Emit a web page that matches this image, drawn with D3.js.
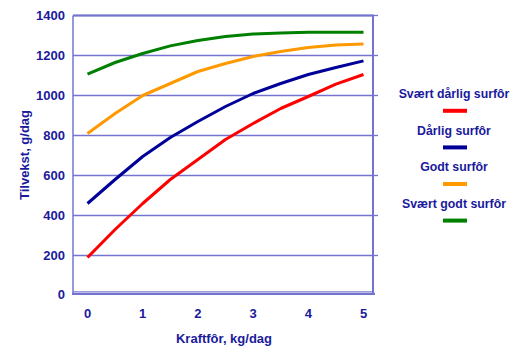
<!DOCTYPE html>
<html>
<head>
<meta charset="utf-8">
<script src="https://d3js.org/d3.v7.min.js"></script>
<style>
  body { margin: 0; background: #fff; }
  text { font-family: "Liberation Sans", Arial, sans-serif; font-weight: bold; fill: #1a1a9c; }
  .grid line { stroke: #7474d0; stroke-width: 1.3px; }
  .series { fill: none; stroke-width: 3px; stroke-linejoin: round; }
</style>
</head>
<body>
<script>
// kraftfôr (kg/dag) along the x axis
const kraftfor = [0, 0.5, 1, 1.5, 2, 2.5, 3, 3.5, 4, 4.5, 5];

// tilvekst (g/dag) per surfôr quality
const svaertDarlig = [190, 330, 460, 580, 680, 780, 860, 935, 995, 1057, 1105];
const darlig       = [460, 580, 695, 790, 870, 945, 1010, 1060, 1105, 1140, 1173];
const godt         = [810, 910, 1000, 1060, 1120, 1160, 1195, 1220, 1240, 1253, 1257];
const svaertGodt   = [1107, 1165, 1210, 1248, 1275, 1295, 1307, 1313, 1316, 1316, 1316];

const seriesNames = ["Svært dårlig surfôr", "Dårlig surfôr", "Godt surfôr", "Svært godt surfôr"];
const seriesColors = ["#ff0000", "#000099", "#ff9900", "#008000"];
const seriesValues = [svaertDarlig, darlig, godt, svaertGodt];

const xTicks = [0, 1, 2, 3, 4, 5];
const yTicks = [0, 200, 400, 600, 800, 1000, 1200, 1400];

const width = 520, height = 349;
const svg = d3.select("body").append("svg")
  .attr("width", width)
  .attr("height", height);

const plotLeft = 73, plotRight = 373, plotTop = 15.5, plotBottom = 295.5;

const x = d3.scaleLinear().domain([0, 5]).range([87.5, 363.5]);
const y = d3.scaleLinear().domain([0, 1400]).range([plotBottom, plotTop]);

// horizontal gridlines
svg.append("g").attr("class", "grid")
  .selectAll("line")
  .data(yTicks.filter(d => d > 0))
  .join("line")
  .attr("x1", plotLeft).attr("x2", plotRight)
  .attr("y1", d => y(d)).attr("y2", d => y(d));

// frame: top, left, right
svg.append("line").attr("x1", plotLeft).attr("x2", plotRight + 1)
  .attr("y1", y(1400)).attr("y2", y(1400))
  .attr("stroke", "#7474d0").attr("stroke-width", 2.2);
svg.append("line").attr("x1", plotLeft).attr("x2", plotLeft)
  .attr("y1", y(1400)).attr("y2", 293)
  .attr("stroke", "#7474d0").attr("stroke-width", 1.5);
svg.append("line").attr("x1", plotRight).attr("x2", plotRight)
  .attr("y1", y(1400)).attr("y2", 293)
  .attr("stroke", "#7474d0").attr("stroke-width", 2);

// small ticks on the right side
svg.append("g")
  .selectAll("line")
  .data(yTicks.filter(d => d > 0))
  .join("line")
  .attr("x1", plotRight).attr("x2", plotRight + 5)
  .attr("y1", d => y(d)).attr("y2", d => y(d))
  .attr("stroke", "#7474d0").attr("stroke-width", 1.3);

// floor
svg.append("line").attr("x1", plotLeft).attr("x2", plotRight)
  .attr("y1", 291.8).attr("y2", 291.8)
  .attr("stroke", "#7474d0").attr("stroke-width", 1);
svg.append("line").attr("x1", plotLeft - 1).attr("x2", plotRight + 2)
  .attr("y1", 293.8).attr("y2", 293.8)
  .attr("stroke", "#7474d0").attr("stroke-width", 2.2);

// y tick labels
svg.append("g")
  .selectAll("text")
  .data(yTicks)
  .join("text")
  .attr("x", 65)
  .attr("y", d => d === 0 ? y(d) - 1 : y(d))
  .attr("dy", "0.36em")
  .attr("text-anchor", "end")
  .attr("font-size", "13px")
  .text(d => d);

// x tick labels
svg.append("g")
  .selectAll("text")
  .data(xTicks)
  .join("text")
  .attr("x", d => x(d))
  .attr("y", 318)
  .attr("text-anchor", "middle")
  .attr("font-size", "13px")
  .text(d => d);

// axis titles
svg.append("text")
  .attr("x", 224).attr("y", 343)
  .attr("text-anchor", "middle")
  .attr("font-size", "13px")
  .text("Kraftfôr, kg/dag");

svg.append("text")
  .attr("transform", "translate(29,155) rotate(-90)")
  .attr("text-anchor", "middle")
  .attr("font-size", "13px")
  .text("Tilvekst, g/dag");

// lines
const line = d3.line()
  .x((d, i) => x(kraftfor[i]))
  .y(d => y(d));

svg.append("g")
  .selectAll("path")
  .data(seriesValues)
  .join("path")
  .attr("class", "series")
  .attr("stroke", (d, i) => seriesColors[i])
  .attr("d", line);

// legend
const legend = svg.append("g")
  .selectAll("g")
  .data(seriesNames)
  .join("g")
  .attr("transform", (d, i) => "translate(454," + (98 + i * 36.6) + ")");

legend.append("text")
  .attr("text-anchor", "middle")
  .attr("font-size", "12.3px")
  .text(d => d);

legend.append("line")
  .attr("x1", -11).attr("x2", 13)
  .attr("y1", 12.8).attr("y2", 12.8)
  .attr("stroke", (d, i) => seriesColors[i])
  .attr("stroke-width", 4);
</script>
</body>
</html>
